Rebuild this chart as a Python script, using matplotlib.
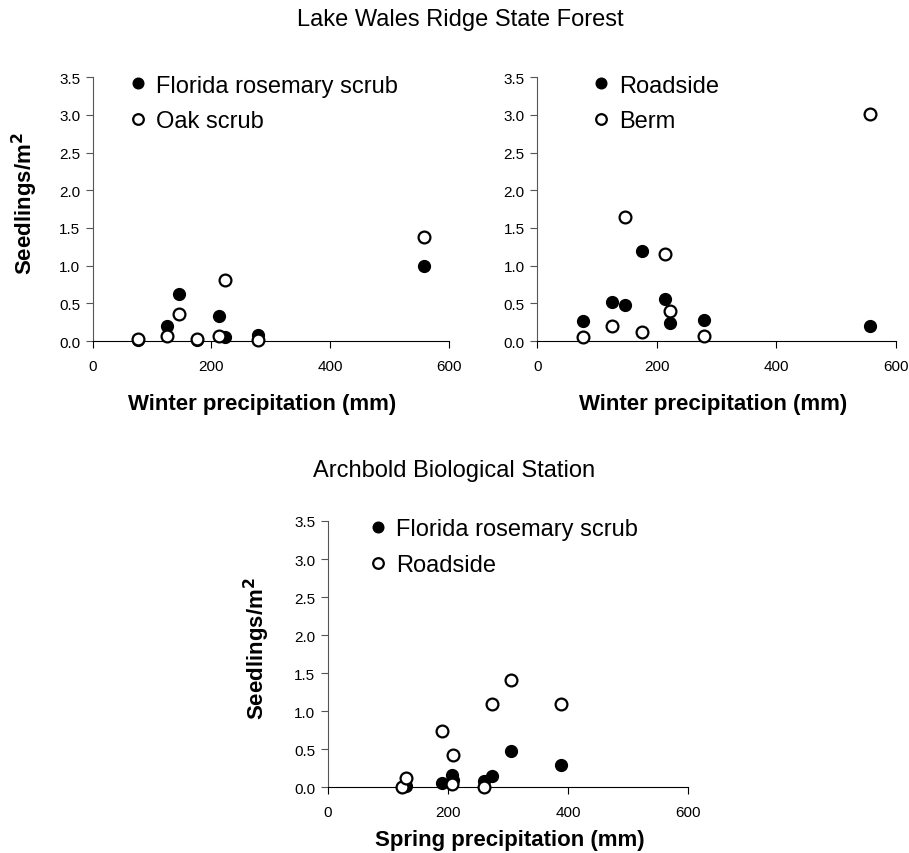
import numpy as np
import matplotlib.pyplot as plt
from matplotlib.ticker import FormatStrFormatter

plt.rcParams['font.family'] = ['Liberation Sans', 'DejaVu Sans']

# Lake Wales Ridge State Forest - winter precipitation (mm)
winter_x = [76, 125, 146, 176, 213, 222, 279, 557]
lw_rosemary = [0.01, 0.20, 0.62, 0.02, 0.33, 0.05, 0.08, 0.99]
lw_oak = [0.03, 0.07, 0.36, 0.03, 0.07, 0.81, 0.02, 1.38]
lw_roadside = [0.26, 0.52, 0.48, 1.19, 0.56, 0.24, 0.28, 0.20]
lw_berm = [0.05, 0.20, 1.64, 0.12, 1.15, 0.40, 0.07, 3.01]

# Archbold Biological Station - spring precipitation (mm)
spring_x = [123, 130, 191, 207, 209, 260, 273, 306, 388]
abs_rosemary = [0.01, 0.02, 0.06, 0.16, 0.10, 0.09, 0.15, 0.48, 0.30]
abs_roadside = [0.01, 0.12, 0.74, 0.05, 0.42, 0.01, 1.09, 1.41, 1.09]

x_ticks = [0, 200, 400, 600]
y_ticks = [0.0, 0.5, 1.0, 1.5, 2.0, 2.5, 3.0, 3.5]

fig = plt.figure(figsize=(9.09, 8.54), dpi=100)

ax1 = fig.add_axes([0.102, 0.5995, 0.392, 0.309])
ax2 = fig.add_axes([0.591, 0.5995, 0.3946, 0.309])
ax3 = fig.add_axes([0.3604, 0.0768, 0.3966, 0.312])


def panel(ax, x, filled, hollow, lab_filled, lab_hollow, xlabel, leg_x,
          xlab_x, xlab_y, ylab_x):
    ax.plot(x, filled, 'o', color='black', markersize=8.5, label=lab_filled,
            clip_on=False, zorder=3)
    ax.plot(x, hollow, 'o', markerfacecolor='white', markeredgecolor='black',
            markeredgewidth=1.6, markersize=8.5, label=lab_hollow,
            clip_on=False, zorder=4)
    ax.set_xlim(0, 600)
    ax.set_ylim(0, 3.5)
    ax.set_xticks(x_ticks)
    ax.set_yticks(y_ticks)
    ax.yaxis.set_major_formatter(FormatStrFormatter('%.1f'))
    for s in ['top', 'right']:
        ax.spines[s].set_visible(False)
    ax.spines['left'].set_color('#555555')
    ax.spines['bottom'].set_color('black')
    ax.tick_params(axis='both', direction='out', length=5, labelsize=11)
    ax.tick_params(axis='x', pad=8)
    ax.tick_params(axis='y', pad=4, color='#555555')
    ax.set_xlabel(xlabel, fontsize=16, fontweight='bold')
    ax.xaxis.set_label_coords(xlab_x, xlab_y)
    if ylab_x is not None:
        ax.set_ylabel('Seedlings/m$^\\mathbf{2}$', fontsize=16,
                      fontweight='bold')
        ax.yaxis.set_label_coords(ylab_x, 0.526)
    ax.legend(loc='upper left', bbox_to_anchor=(leg_x, 1.01), frameon=False,
              fontsize=17, handlelength=0.75, handletextpad=0.4,
              borderpad=0, borderaxespad=0, labelspacing=0.58,
              markerscale=0.9)


panel(ax1, winter_x, lw_rosemary, lw_oak, 'Florida rosemary scrub',
      'Oak scrub', 'Winter precipitation (mm)', 0.101, 0.475, -0.196, -0.148)
panel(ax2, winter_x, lw_roadside, lw_berm, 'Roadside', 'Berm',
      'Winter precipitation (mm)', 0.152, 0.49, -0.196, None)
panel(ax3, spring_x, abs_rosemary, abs_roadside, 'Florida rosemary scrub',
      'Roadside', 'Spring precipitation (mm)', 0.114, 0.505, -0.156, -0.154)

fig.text(0.506, 0.976, 'Lake Wales Ridge State Forest', ha='center',
         va='center', fontsize=17)
fig.text(0.50, 0.448, 'Archbold Biological Station', ha='center',
         va='center', fontsize=17)

fig.savefig('out.png', dpi=100)
